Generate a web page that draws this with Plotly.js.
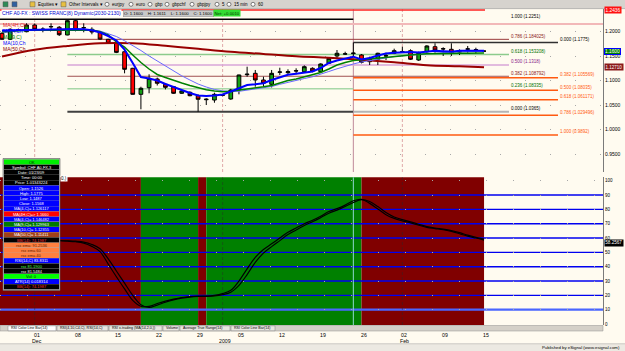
<!DOCTYPE html>
<html>
<head>
<meta charset="utf-8">
<script src="https://cdn.plot.ly/plotly-3.0.1.min.js"></script>
<style>
html,body{margin:0;padding:0;background:#FFFBF0;overflow:hidden}
#chart{width:625px;height:351px}
</style>
</head>
<body>
<div id="chart"></div>
<script>
// ---------------- DATA ----------------
const barIdx = [-4,-3,-2,-1,0,1,2,3,4,5,6,7,8,9,10,11,12,13,14,15,16,17,18,19,20,21,22,23,24,25,26,27,28,29,30,31,32,33,34,35,36,37,38,39,40,41,42,43,44,45,46,47,48,49,50,51,52,53,54,55];
const openP = [1.1963,1.1841,1.2030,1.1996,1.2132,1.2040,1.2095,1.2086,1.1929,1.2220,
  1.2080,1.2045,1.1985,1.1841,1.1772,1.1588,1.1250,1.0720,1.0855,1.1032,
  1.0924,1.0875,1.0741,1.0761,1.0692,1.0610,1.0604,1.0700,1.0625,1.0808,
  1.1120,1.1148,1.1012,1.0924,1.1170,1.1161,1.1195,1.1181,1.1250,1.1181,
  1.1352,1.1501,1.1540,1.1550,1.1521,1.1385,1.1434,1.1500,1.1556,1.1585,
  1.1609,1.1419,1.1588,1.1690,1.1650,1.1637,1.1590,1.1640,1.1625,1.1600];
const highP = [1.1985,1.2065,1.2060,1.2167,1.2163,1.2086,1.2167,1.2112,1.2251,1.2240,
  1.2167,1.2086,1.2000,1.1850,1.1780,1.1590,1.1260,1.0875,1.1128,1.1060,
  1.0945,1.0890,1.0800,1.0780,1.0720,1.0639,1.0753,1.0730,1.0830,1.1120,
  1.1283,1.1216,1.1079,1.1216,1.1262,1.1230,1.1250,1.1310,1.1270,1.1350,
  1.1470,1.1623,1.1588,1.1775,1.1540,1.1487,1.1568,1.1568,1.1650,1.1690,
  1.1637,1.1590,1.1720,1.1760,1.1678,1.1760,1.1637,1.1705,1.1670,1.1611];
const lowP = [1.1830,1.1827,1.2010,1.1984,1.2031,1.1984,1.2045,1.1908,1.1923,1.2010,
  1.1984,1.1943,1.1830,1.1750,1.1560,1.1148,1.0715,1.0415,1.0741,1.0900,
  1.0820,1.0730,1.0730,1.0680,1.0365,1.0502,1.0549,1.0680,1.0610,1.0720,
  1.1079,1.0875,1.0875,1.0860,1.1114,1.1130,1.1128,1.1160,1.1170,1.1170,
  1.1340,1.1454,1.1521,1.1487,1.1350,1.1317,1.1317,1.1419,1.1540,1.1568,
  1.1419,1.1400,1.1570,1.1568,1.1501,1.1501,1.1521,1.1568,1.1556,1.1600];
const closeP = [1.1841,1.2045,1.2040,1.2132,1.2045,1.2048,1.2100,1.1935,1.2220,1.2031,
  1.2075,1.1990,1.1845,1.1760,1.1575,1.1230,1.0720,1.0843,1.1046,1.0945,
  1.0863,1.0741,1.0788,1.0692,1.0619,1.0620,1.0720,1.0705,1.0808,1.1114,
  1.1130,1.1012,1.0945,1.1148,1.1175,1.1181,1.1200,1.1283,1.1195,1.1338,
  1.1454,1.1556,1.1545,1.1560,1.1372,1.1454,1.1556,1.1505,1.1609,1.1590,
  1.1434,1.1568,1.1705,1.1623,1.1645,1.1556,1.1585,1.1645,1.1630,1.1600];

const maFast = [1.2020,1.2025,1.2029,1.2035,1.2041,1.2046,1.2051,1.2054,1.2057,1.2053,
  1.2047,1.2026,1.1980,1.1908,1.1817,1.1630,1.1358,1.1073,1.1042,1.1002,
  1.0930,1.0869,1.0798,1.0747,1.0696,1.0686,1.0696,1.0716,1.0778,1.0839,
  1.0910,1.0926,1.0947,1.1012,1.1073,1.1118,1.1140,1.1165,1.1185,1.1256,
  1.1358,1.1409,1.1450,1.1487,1.1429,1.1460,1.1511,1.1552,1.1568,1.1582,
  1.1582,1.1570,1.1593,1.1609,1.1599,1.1590,1.1607,1.1609,1.1609,1.1609];
const maMid = [1.1990,1.2005,1.2020,1.2023,1.2026,1.2028,1.2031,1.2033,1.2035,1.2035,
  1.2035,1.2031,1.1998,1.1929,1.1786,1.1684,1.1521,1.1368,1.1236,1.1124,
  1.1063,1.1002,1.0951,1.0900,1.0859,1.0812,1.0788,1.0773,1.0784,1.0804,
  1.0833,1.0859,1.0873,1.0900,1.0951,1.1002,1.1032,1.1073,1.1114,1.1165,
  1.1236,1.1317,1.1368,1.1409,1.1423,1.1440,1.1460,1.1476,1.1491,1.1511,
  1.1525,1.1537,1.1546,1.1552,1.1556,1.1556,1.1558,1.1558,1.1560,1.1562];
const maSlow = [1.2014,1.2017,1.2020,1.2023,1.2026,1.2028,1.2031,1.2033,1.2035,1.2035,
  1.2035,1.2031,1.2010,1.1959,1.1898,1.1811,1.1715,1.1613,1.1501,1.1399,
  1.1307,1.1195,1.1097,1.1012,1.0930,1.0869,1.0818,1.0791,1.0775,1.0781,
  1.0802,1.0822,1.0843,1.0879,1.0924,1.0967,1.1002,1.1042,1.1077,1.1124,
  1.1185,1.1240,1.1293,1.1338,1.1379,1.1409,1.1436,1.1460,1.1489,1.1505,
  1.1519,1.1535,1.1550,1.1562,1.1570,1.1576,1.1582,1.1586,1.1593,1.1599];
const ma50Idx = [-4,0,4,8,12,16,20,24,28,32,36,40,44,48,52,55];
const ma50 = [1.1491,1.1627,1.1705,1.1760,1.1760,1.1709,1.1648,1.1588,1.1542,1.1495,1.1464,1.1423,1.1372,1.1311,1.1291,1.1271];

const rsiA = [58.5,58.4,58.3,58.3,58.2,58.2,58.1,58.1,57.8,57.4,
  56.5,54.2,50.5,41.8,33.0,24.5,16.5,12.4,12.3,14.3,
  16.0,17.4,18.5,19.2,19.5,19.5,20.0,21.2,23.5,30.0,
  38.5,46.5,52.0,56.0,60.0,64.0,67.0,70.0,72.4,75.2,
  78.5,80.5,83.0,86.0,87.0,84.2,80.3,76.3,73.7,72.0,
  70.6,69.0,67.5,66.6,65.8,64.6,63.0,61.3,60.0,58.6];
const rsiB = [58.8,58.7,58.6,58.6,58.5,58.5,58.4,58.3,58.1,57.8,
  57.2,55.5,52.5,45.5,37.0,28.5,20.0,13.5,11.5,13.2,
  15.2,16.8,18.0,18.8,19.2,19.3,19.6,20.5,22.2,27.0,
  34.5,43.0,49.5,54.0,58.2,62.4,65.6,68.8,71.4,74.2,
  77.3,79.5,82.0,84.8,86.8,85.5,82.0,77.8,74.7,72.8,
  71.3,69.6,68.0,67.0,66.2,65.2,63.8,62.0,60.5,59.2];
// 'd' = down (red background), 'u' = up (green background)
const zoneState = ['d','d','d','d','d','d','d','d','d','d','d','d','d','d','d','d','d','d',
  'u','u','u','u','u','u','u','d',
  'u','u','u','u','u','u','u','u','u','u','u','u','u','u','u','u','u','u','u',
  'd','d','d','d','d','d','d','d','d','d','d','d','d','d','d'];
const rsiLevels = [90,80,70,60,50,40,30,20,10];

const fib1Ratio = ['1.000','0.786','0.618','0.500','0.382','0.236','0.000'];
const fib1Price = [1.2251,1.184025,1.153208,1.1318,1.108792,1.08335,1.0365];
const fib2Ratio = ['0.000','0.382','0.500','0.618','0.786','1.000'];
const fib2Price = [1.1775,1.105569,1.08035,1.061171,1.029496,0.9892];
const topLinePrice = 1.2436;
const pinkLinePrice = 1.2153;

const priceTicks = [0.95,1.00,1.05,1.10,1.15,1.20];
const rsiTicks = [0,10,20,30,40,50,60,70,80,90,100];
const dateTickIdx = [0,5,10,15,20,25,30,35,40,45,50,55];
const dateTickText = ['01','08','15','22','29','05','12','19','26','02','09','15'];
const monthIdx = [0,23,45];
const monthText = ['Dec','2009','Feb'];

const maLegend = ['MA(4H,Ch','MA(4,Ch','MA(9,C)','MA(10,Ch','MA(50,Ch'];
const dwLabels = ['OK','Symbol: CHF A0-FX,3','Date: 01/23/09','Time: 00:00','Price: 1.01343224',
  'Open: 1.1526','High: 1.1775','Low: 1.1487','Close: 1.1568','MA(4,C)= 1.126117',
  'MA(4H,C)=> 1.1660','MA(4,C)= 1.146482','MA(9,C)= 1.129963','MA(10,C)= 1.12355','MA(50,C)= 1.11411',
  'BB(14): 74.1987','rsx ema: 91.2536','rsx ema 60','rsx ema 40','RSI(14,C) 83.8311',
  'rsx 81.1900','rsx 81.5484','Vol: 0','ATR(14) 0.018314','BB(14): 74.1987'];
const tabLabels = ['RSI Color Line Bar(14)','RSI(4,10,C4,C), RSI(14,C)','RSI x-trading (MA(14,2,0,))','Volume','Average True Range(14)','RSI Color Line Bar(14)'];
const toolbarLabels = ['Equities \u25BE','Other Intervals \u25BE','eurjpy','euro','gbp','gbpchf','gbpjpy','5','15 min','60'];

// ---------------- LAYOUT HELPERS ----------------
const FONT = 'Liberation Sans, Arial, sans-serif';
const W = 625, H = 351, ML = 0, MR = 22, MT = 9, MB = 26;
const PW = W - ML - MR, PH = H - MT - MB;
const fx = px => (px - ML) / PW;
const fy = py => (H - MB - py) / PH;
const xOfPx = px => (px - 34.7) / 8.17; // pixel -> bar index (used for label anchors only)

const shapes = [];
const annotations = [];
function ann(o, size, color) {
  return Object.assign({showarrow:false, font:{family:FONT, size:size||5, color:color||'#000'}}, o);
}

// lower panel zones
let s = 0;
for (let i = 1; i <= zoneState.length; i++) {
  if (i === zoneState.length || zoneState[i] !== zoneState[s]) {
    shapes.push({type:'rect', layer:'below', xref:'x', yref:'y2 domain',
      x0: barIdx[s] - 1, x1: barIdx[i-1], y0:0, y1:1,
      fillcolor: zoneState[s] === 'u' ? '#008000' : '#800000', line:{width:0}});
    s = i;
  }
}
// rsi level lines
rsiLevels.forEach(v => {
  shapes.push({type:'line', layer:'below', xref:'x domain', yref:'y2', x0:0, x1:1, y0:v, y1:v,
    line:{color: v === 10 ? '#4A66FF' : '#0000F0', width: v === 10 ? 2.2 : 1.4}});
});
// month separators
monthIdx.forEach(m => {
  shapes.push({type:'line', layer:'below', xref:'x', yref:'y domain', x0:m, x1:m, y0:0, y1:1,
    line:{color:'#E0A8A8', width:1, dash:'3px,2px'}});
  shapes.push({type:'line', layer:'below', xref:'x', yref:'y2 domain', x0:m, x1:m, y0:0, y1:1,
    line:{color:'rgba(40,40,40,0.45)', width:1, dash:'3px,2px'}});
});
// fib anchor vertical
const anchorIdx = 39;
shapes.push({type:'line', layer:'below', xref:'x', yref:'y domain', x0:anchorIdx, x1:anchorIdx, y0:0, y1:1, line:{color:'#C08898', width:1}});
shapes.push({type:'line', layer:'below', xref:'x', yref:'y2 domain', x0:anchorIdx, x1:anchorIdx, y0:0, y1:1, line:{color:'#90D8D0', width:1}});

// top red and pink lines
const xLeft = xOfPx(0), xRight = xOfPx(603);
shapes.push({type:'line', layer:'below', xref:'x', yref:'y', x0:xLeft, x1:xOfPx(485), y0:topLinePrice, y1:topLinePrice, line:{color:'#FF2020', width:1.5}});
shapes.push({type:'line', layer:'below', xref:'x', yref:'y', x0:xLeft, x1:xRight, y0:pinkLinePrice, y1:pinkLinePrice, line:{color:'#F2B8B8', width:2}});

// fib set 1
const fib1Start = 4, fib1End = xOfPx(509);
const fib1Style = [
  {c:'#000000', w:1.5, t:'#000000', from:xLeft, to:anchorIdx},
  {c:'#9A3A3A', w:1, t:'#8B2020', from:fib1Start, to:fib1End},
  {c:'#8CCB8C', w:1.5, t:'#007000', from:fib1Start, to:fib1End},
  {c:'#D9A6D9', w:1.5, t:'#882288', from:fib1Start, to:fib1End},
  {c:'#A05050', w:1, t:'#8B2020', from:fib1Start, to:fib1End},
  {c:'#A8D8A8', w:1.5, t:'#007000', from:fib1Start, to:anchorIdx},
  {c:'#404040', w:2, t:'#000000', from:fib1Start, to:anchorIdx}
];
fib1Price.forEach((p, i) => {
  const st = fib1Style[i];
  shapes.push({type:'line', layer:'below', xref:'x', yref:'y', x0:st.from, x1:st.to, y0:p, y1:p, line:{color:st.c, width:st.w}});
  annotations.push(ann({xref:'x', yref:'y', x:fib1End, y:p, xanchor:'left', yanchor:'middle', yshift:3,
    text: fib1Ratio[i] + ' (' + fib1Price[i] + ')'}, 4.5, st.t));
});
shapes.push({type:'line', layer:'below', xref:'x', yref:'y', x0:anchorIdx, x1:fib1End, y0:fib1Price[6], y1:fib1Price[6], line:{color:'#B4B4B4', width:2}});
// fib set 2
const fib2End = xOfPx(558);
fib2Price.forEach((p, i) => {
  const black = i === 0;
  shapes.push({type:'line', layer:'below', xref:'x', yref:'y', x0:anchorIdx, x1:fib2End, y0:p, y1:p,
    line:{color: black ? '#303030' : '#FF5A10', width:1.5}});
  annotations.push(ann({xref:'x', yref:'y', x:fib2End, y:p, xanchor:'left', yanchor:'middle', yshift:3,
    text: fib2Ratio[i] + ' (' + fib2Price[i] + ')'}, 4.5, black ? '#000' : '#FF5A10'));
});

// MA legend labels on the left
const legendColors = ['#E02020','#0000FF','#008000','#0000FF','#8B0000'];
const legendY = [24.7, 30.5, 36.7, 42.7, 48.7];
maLegend.forEach((t, i) => {
  annotations.push(ann({xref:'paper', yref:'paper', x:fx(1), y:fy(legendY[i]), xanchor:'left', yanchor:'middle', text:t}, 5, legendColors[i]));
});

// title row
annotations.push(ann({xref:'paper', yref:'paper', x:fx(1), y:fy(13.3), xanchor:'left', yanchor:'middle',
  text:'CHF A0-FX : SWISS FRANC(8) Dynamic(2030-2130)', bgcolor:'#FFFFFF', borderpad:0}, 5, '#0000CC'));
annotations.push(ann({xref:'paper', yref:'paper', x:fx(123), y:fy(13.3), xanchor:'left', yanchor:'middle',
  text:'O: ' + openP[59].toFixed(4) + '    H: ' + highP[59].toFixed(4) + '    L: ' + lowP[59].toFixed(4) + '    C: ' + closeP[59].toFixed(4),
  bgcolor:'#C8C8C8', bordercolor:'#909090', borderwidth:0.5, borderpad:0.5}, 4.3, '#000'));
annotations.push(ann({xref:'paper', yref:'paper', x:fx(213), y:fy(13.3), xanchor:'left', yanchor:'middle',
  text:'Net: +0.0010', bgcolor:'#33DD33', borderpad:0.5}, 4.3, '#003300'));

// right axis price boxes
annotations.push(ann({xref:'paper', yref:'y', x:1, y:topLinePrice, xanchor:'left', yanchor:'middle', xshift:1,
  text:topLinePrice.toFixed(4), bgcolor:'#FF1010', borderpad:0.5}, 4.8, '#FFFFFF'));
annotations.push(ann({xref:'paper', yref:'y', x:1, y:closeP[59], xanchor:'left', yanchor:'middle', xshift:1,
  text:closeP[59].toFixed(4), bgcolor:'#008000', bordercolor:'#0000FF', borderwidth:1, borderpad:0}, 4.8, '#FFFFFF'));
annotations.push(ann({xref:'paper', yref:'y', x:1, y:ma50[ma50.length-1], xanchor:'left', yanchor:'middle', xshift:1,
  text:ma50[ma50.length-1].toFixed(5), bgcolor:'#8B1A1A', borderpad:0.5}, 4.5, '#FFFFFF'));
annotations.push(ann({xref:'paper', yref:'y2', x:1, y:rsiA[59], xanchor:'left', yanchor:'middle', xshift:1, yshift:-2.5,
  text:'58.2567', bgcolor:'#000000', borderpad:0.3}, 4.6, '#FFFFFF'));

// toolbar
shapes.push({type:'rect', layer:'above', xref:'paper', yref:'paper', x0:fx(0), x1:fx(625), y0:fy(8.5), y1:fy(0), fillcolor:'#D6D3CE', line:{width:0}});
shapes.push({type:'line', layer:'above', xref:'paper', yref:'paper', x0:fx(0), x1:fx(625), y0:fy(8.6), y1:fy(8.6), line:{color:'#A0A0A0', width:0.7}});
const tbX = [36, 67, 110, 134, 153, 170, 195, 220, 232, 256];
toolbarLabels.forEach((t, i) => {
  annotations.push(ann({xref:'paper', yref:'paper', x:fx(tbX[i]), y:fy(4.3), xanchor:'left', yanchor:'middle', text:t}, 4.5, '#000'));
  if (i >= 2) shapes.push({type:'circle', layer:'above', xref:'paper', yref:'paper', x0:fx(tbX[i]-5), x1:fx(tbX[i]-1), y0:fy(6.3), y1:fy(2.3), line:{color:'#333', width:0.6}, fillcolor:'#FFFFFF'});
});
[[3,'#2E8B57'],[12,'#3060A0'],[30,'#E8C040'],[61,'#E8C040']].forEach(d => {
  shapes.push({type:'rect', layer:'above', xref:'paper', yref:'paper', x0:fx(d[0]), x1:fx(d[0]+5), y0:fy(6.8), y1:fy(1.8), fillcolor:d[1], line:{color:'#555', width:0.5}});
});

// tab bar
shapes.push({type:'rect', layer:'above', xref:'paper', yref:'paper', x0:fx(0), x1:fx(603), y0:fy(331), y1:fy(325.5), fillcolor:'#D4D0C8', line:{color:'#909090', width:0.5}});
const tabX = [8, 57, 109, 163, 180, 231];
const tabW = [48, 51, 53, 16, 50, 44];
tabLabels.forEach((t, i) => {
  shapes.push({type:'rect', layer:'above', xref:'paper', yref:'paper', x0:fx(tabX[i]), x1:fx(tabX[i]+tabW[i]), y0:fy(330.8), y1:fy(325.8), fillcolor: i===0 ? '#FFFFFF' : '#E8E6E0', line:{color:'#808080', width:0.5}});
  annotations.push(ann({xref:'paper', yref:'paper', x:fx(tabX[i]+1), y:fy(328.3), xanchor:'left', yanchor:'middle', text:t}, 3.6, '#000'));
});
// date labels
dateTickIdx.forEach((d, i) => {
  annotations.push(ann({xref:'x', yref:'paper', x:d, y:fy(335), xanchor:'center', yanchor:'middle', xshift:2, text:dateTickText[i]}, 5.2, '#000'));
});
monthIdx.forEach((m, i) => {
  annotations.push(ann({xref:'x', yref:'paper', x:m, y:fy(340.8), xanchor:'center', yanchor:'middle', xshift:2, text:monthText[i]}, 5.2, '#000'));
});
// status bar
shapes.push({type:'line', layer:'above', xref:'paper', yref:'paper', x0:fx(0), x1:fx(625), y0:fy(344), y1:fy(344), line:{color:'#A0A0A0', width:0.8}});
shapes.push({type:'rect', layer:'above', xref:'paper', yref:'paper', x0:fx(0), x1:fx(625), y0:fy(351), y1:fy(344.5), fillcolor:'#ECE9E2', line:{width:0}});
annotations.push(ann({xref:'paper', yref:'paper', x:fx(622), y:fy(347.8), xanchor:'right', yanchor:'middle', text:'Published by eSignal (www.esignal.com)'}, 4.3, '#000'));

// data window
const dwBg = ['#00EE00','#000000','#000000','#000000','#000000','#0000FF','#0000FF','#0000FF','#0000FF','#0000FF',
  '#FF0000','#0000FF','#007A00','#0000FF','#A0401A','#000000','#FF8040','#FF8040','#FF8040','#0000FF',
  '#000000','#000000','#00FF00','#0000FF','#000000'];
const dwFg = ['#003300','#FFFFFF','#FFFFFF','#FFFFFF','#FFFFFF','#FFFFFF','#FFFFFF','#FFFFFF','#FFFFFF','#FFFFFF',
  '#FFFFFF','#FFFFFF','#FFFFFF','#FFFFFF','#FFFFFF','#FF3030','#5A2000','#5A2000','#5A2000','#FFFFFF',
  '#50FF50','#FFFFFF','#003300','#FFFFFF','#FF3030'];
const dwTop = 159.5, dwRowH = 5.2, dwL = 4, dwR = 59;
shapes.push({type:'rect', layer:'above', xref:'paper', yref:'paper', x0:fx(dwL-1), x1:fx(dwR+1), y0:fy(dwTop + dwRowH*dwLabels.length + 1), y1:fy(dwTop-1), fillcolor:'#B0B0B0', line:{color:'#606060', width:0.6}});
dwLabels.forEach((t, i) => {
  const y0 = dwTop + i*dwRowH;
  shapes.push({type:'rect', layer:'above', xref:'paper', yref:'paper', x0:fx(dwL), x1:fx(dwR), y0:fy(y0+dwRowH-0.3), y1:fy(y0), fillcolor:dwBg[i], line:{width:0}});
  annotations.push(ann({xref:'paper', yref:'paper', x:fx((dwL+dwR)/2), y:fy(y0+dwRowH/2), xanchor:'center', yanchor:'middle', text:t}, 4.0, dwFg[i]));
});
annotations.push(ann({xref:'paper', yref:'paper', x:fx(60), y:fy(178.5), xanchor:'left', yanchor:'middle', text:'0.)', bgcolor:'#FFFFFF', borderpad:0}, 4.5, '#000'));

// ---------------- TRACES ----------------
const traces = [
  {type:'candlestick', x:barIdx, open:openP, high:highP, low:lowP, close:closeP, xaxis:'x', yaxis:'y',
    increasing:{line:{color:'#000000', width:1}, fillcolor:'#14A014'},
    decreasing:{line:{color:'#000000', width:1}, fillcolor:'#FF0000'},
    whiskerwidth:0, hoverinfo:'skip', showlegend:false},
  {type:'scatter', mode:'lines', x:ma50Idx, y:ma50, xaxis:'x', yaxis:'y', line:{color:'#990000', width:2, shape:'spline'}, hoverinfo:'skip'},
  {type:'scatter', mode:'lines', x:barIdx, y:maSlow, xaxis:'x', yaxis:'y', line:{color:'#6A6AFF', width:1}, hoverinfo:'skip'},
  {type:'scatter', mode:'lines', x:barIdx, y:maMid, xaxis:'x', yaxis:'y', line:{color:'#008000', width:1.5}, hoverinfo:'skip'},
  {type:'scatter', mode:'lines', x:barIdx, y:maFast, xaxis:'x', yaxis:'y', line:{color:'#0000FF', width:2}, hoverinfo:'skip'},
  {type:'scatter', mode:'lines', x:barIdx, y:rsiB, xaxis:'x', yaxis:'y2', line:{color:'#000000', width:1.2, shape:'spline'}, hoverinfo:'skip'},
  {type:'scatter', mode:'lines', x:barIdx, y:rsiA, xaxis:'x', yaxis:'y2', line:{color:'#000000', width:1.2, shape:'spline'}, hoverinfo:'skip'}
];

const layout = {
  width:W, height:H, margin:{l:ML, r:MR, t:MT, b:MB, pad:0},
  paper_bgcolor:'#FFFBF0', plot_bgcolor:'rgba(0,0,0,0)', showlegend:false,
  boxgap:0.35,
  xaxis:{range:[xLeft, xRight], anchor:'y2', showticklabels:false, ticks:'', showgrid:false, zeroline:false,
    showline:false, rangeslider:{visible:false}, fixedrange:true},
  yaxis:{domain:[fy(172), 1], range:[1.2 - (172-31.5)/490.8, 1.2 + (31.5-MT)/490.8], side:'right', anchor:'x',
    tickvals:priceTicks, ticktext:priceTicks.map(v => v.toFixed(4)), ticks:'',
    tickfont:{family:FONT, size:5, color:'#000'}, showgrid:true, gridcolor:'#A8A8A8', griddash:'1px,24px', gridwidth:1,
    zeroline:false, showline:true, linecolor:'#7A7A7A', linewidth:1},
  yaxis2:{domain:[0, fy(177.3)], range:[-0.7, 102.4], side:'right', anchor:'x',
    tickvals:rsiTicks, ticks:'', tickfont:{family:FONT, size:4.5, color:'#000'},
    showgrid:true, gridcolor:'#A8A8A8', griddash:'1px,26px', gridwidth:1,
    zeroline:false, showline:true, linecolor:'#7A7A7A', linewidth:1},
  shapes:shapes, annotations:annotations
};

Plotly.newPlot('chart', traces, layout, {displayModeBar:false, staticPlot:true});
</script>
</body>
</html>
